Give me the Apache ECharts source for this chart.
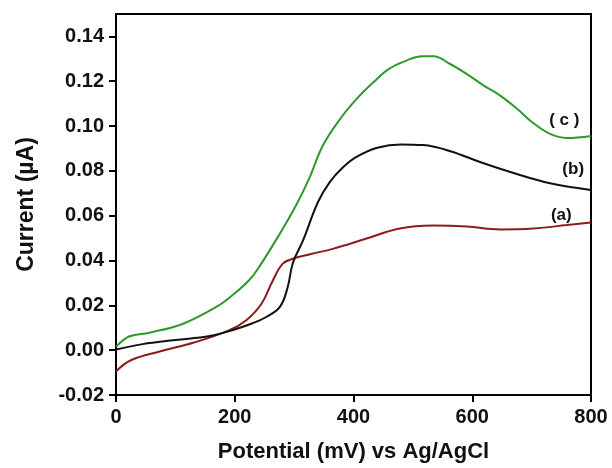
<!DOCTYPE html>
<html>
<head>
<meta charset="utf-8">
<script src="https://cdn.jsdelivr.net/npm/echarts@6/dist/echarts.min.js"></script>
<style>
html, body { margin: 0; padding: 0; background: #fff; }
#main { width: 612px; height: 468px; }
</style>
</head>
<body>
<div id="main"></div>
<script>
// curve (a)
var potA = [0, 25, 75, 130, 190, 220, 245, 264, 281, 300, 330, 365, 422, 478, 534, 591, 647, 703, 759, 800];
var curA = [-0.0095, -0.0045, -0.0005, 0.0033, 0.0088, 0.0135, 0.0207, 0.031, 0.0386, 0.041, 0.043, 0.0452, 0.0498, 0.0543, 0.0556, 0.0552, 0.0539, 0.0543, 0.0558, 0.057];
// curve (b)
var potB = [0, 45, 100, 158, 197, 230, 253, 276, 289, 298, 315, 340, 360, 382, 405, 440, 480, 517, 562, 618, 675, 731, 800];
var curB = [0.0003, 0.0027, 0.0045, 0.0063, 0.009, 0.012, 0.0148, 0.0193, 0.028, 0.039, 0.049, 0.066, 0.075, 0.0815, 0.0862, 0.0903, 0.0918, 0.0915, 0.0889, 0.0835, 0.0786, 0.0745, 0.0715];
// curve (c)
var potC = [0, 23, 56, 112, 169, 197, 225, 242, 276, 304, 326, 348, 377, 405, 433, 461, 490, 515, 535, 562, 591, 618, 647, 675, 702, 731, 759, 800];
var curC = [0.0015, 0.0062, 0.0078, 0.0117, 0.0193, 0.0247, 0.0314, 0.0375, 0.052, 0.065, 0.077, 0.0911, 0.103, 0.112, 0.1194, 0.1257, 0.1293, 0.1312, 0.1312, 0.1278, 0.1232, 0.1183, 0.1136, 0.1078, 0.1015, 0.0965, 0.0947, 0.0956];

var xTicks = [0, 200, 400, 600, 800];
var yTicks = [-0.02, 0, 0.02, 0.04, 0.06, 0.08, 0.10, 0.12, 0.14];

function pairs(xs, ys) {
    return xs.map(function (x, i) { return [x, ys[i]]; });
}

var font = 'Liberation Sans, Arial, sans-serif';

var myChart = echarts.init(document.getElementById('main'));
var option = {
    animation: false,
    backgroundColor: '#fff',
    grid: {
        left: 116, right: 21, top: 14, bottom: 71,
        show: true, borderColor: '#000', borderWidth: 2
    },
    xAxis: {
        type: 'value', min: 0, max: 800, interval: 200,
        name: 'Potential (mV) vs Ag/AgCl',
        nameLocation: 'middle', nameGap: 46,
        nameTextStyle: { fontFamily: font, fontWeight: 'bold', fontSize: 22, color: '#111' },
        axisLine: { show: true, onZero: false, lineStyle: { color: '#000', width: 2 } },
        axisTick: { show: true, length: 7, lineStyle: { color: '#000', width: 2 }, customValues: xTicks },
        axisLabel: { margin: 12, fontFamily: font, fontWeight: 'bold', fontSize: 20, color: '#111', customValues: xTicks },
        splitLine: { show: false }
    },
    yAxis: {
        type: 'value', min: -0.02, max: 0.15,
        name: 'Current (\u00b5A)',
        nameLocation: 'middle', nameGap: 78,
        nameTextStyle: { fontFamily: font, fontWeight: 'bold', fontSize: 23, color: '#111' },
        axisLine: { show: true, onZero: false, lineStyle: { color: '#000', width: 2 } },
        axisTick: { show: true, length: 7, lineStyle: { color: '#000', width: 2 }, customValues: yTicks },
        axisLabel: {
            margin: 12, fontFamily: font, fontWeight: 'bold', fontSize: 20, color: '#111',
            customValues: yTicks,
            formatter: function (v) { return v.toFixed(2); }
        },
        splitLine: { show: false }
    },
    series: [
        {
            name: '(a)', type: 'line', data: pairs(potA, curA), smooth: 0.4, showSymbol: false,
            lineStyle: { color: '#8a1c1c', width: 2 },
            markPoint: {
                symbol: 'circle', symbolSize: 0,
                label: { show: true, formatter: '(a)', fontFamily: font, fontWeight: 'bold', fontSize: 17, color: '#111' },
                data: [{ coord: [750, 0.0603] }]
            }
        },
        {
            name: '(b)', type: 'line', data: pairs(potB, curB), smooth: 0.4, showSymbol: false,
            lineStyle: { color: '#111', width: 2 },
            markPoint: {
                symbol: 'circle', symbolSize: 0,
                label: { show: true, formatter: '(b)', fontFamily: font, fontWeight: 'bold', fontSize: 17, color: '#111' },
                data: [{ coord: [770, 0.0805] }]
            }
        },
        {
            name: '( c )', type: 'line', data: pairs(potC, curC), smooth: 0.4, showSymbol: false,
            lineStyle: { color: '#2e9a2a', width: 2 },
            markPoint: {
                symbol: 'circle', symbolSize: 0,
                label: { show: true, formatter: '( c )', fontFamily: font, fontWeight: 'bold', fontSize: 17, color: '#111' },
                data: [{ coord: [755, 0.1025] }]
            }
        }
    ]
};
myChart.setOption(option);
</script>
</body>
</html>
